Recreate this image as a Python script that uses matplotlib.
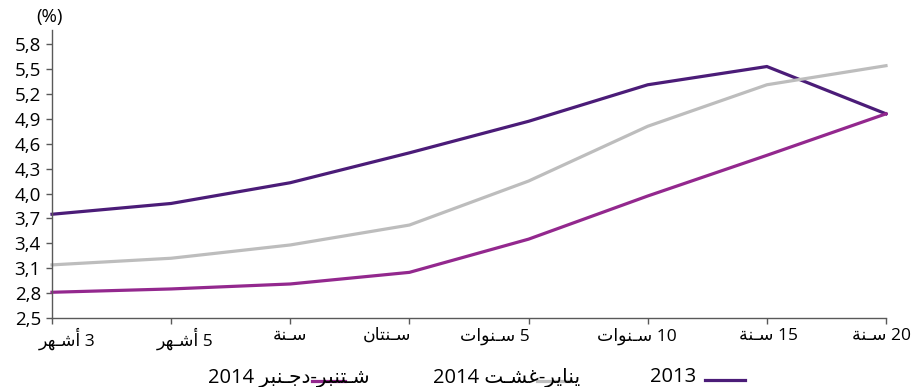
import matplotlib
matplotlib.use("Agg")
import matplotlib.pyplot as plt
from matplotlib.lines import Line2D
import matplotlib.transforms as mtransforms

plt.rcParams['font.family'] = ['Open Sans', 'DejaVu Sans']

# --- data -------------------------------------------------------------
maturities = ["3 أشـهر", "5 أشـهر", "سـنة", "سـنتان", "5 سـنوات",
              "10 سـنوات", "15 سـنة", "20 سـنة"]
series_names = ["2013", "يناير-غشـت 2014", "شـتنبر-دجـنبر 2014"]
rates_2013 = [3.75, 3.88, 4.13, 4.49, 4.87, 5.31, 5.53, 4.96]
rates_jan_aug_2014 = [3.14, 3.22, 3.38, 3.62, 4.15, 4.81, 5.31, 5.54]
rates_sep_dec_2014 = [2.81, 2.85, 2.91, 3.05, 3.45, 3.97, 4.46, 4.96]
y_ticks = [2.5, 2.8, 3.1, 3.4, 3.7, 4.0, 4.3, 4.6, 4.9, 5.2, 5.5, 5.8]

colors = ["#4b1c78", "#bdbdbd", "#93288e"]

# --- minimal Arabic shaping (presentation forms + visual order) -------
FORMS = {  # isolated, final, initial, medial
    'ا': ('\uFE8D', '\uFE8E', None, None),
    'أ': ('\uFE83', '\uFE84', None, None),
    'ب': ('\uFE8F', '\uFE90', '\uFE91', '\uFE92'),
    'ة': ('\uFE93', '\uFE94', None, None),
    'ت': ('\uFE95', '\uFE96', '\uFE97', '\uFE98'),
    'ج': ('\uFE9D', '\uFE9E', '\uFE9F', '\uFEA0'),
    'د': ('\uFEA9', '\uFEAA', None, None),
    'ر': ('\uFEAD', '\uFEAE', None, None),
    'س': ('\uFEB1', '\uFEB2', '\uFEB3', '\uFEB4'),
    'ش': ('\uFEB5', '\uFEB6', '\uFEB7', '\uFEB8'),
    'غ': ('\uFECD', '\uFECE', '\uFECF', '\uFED0'),
    'ن': ('\uFEE5', '\uFEE6', '\uFEE7', '\uFEE8'),
    'ه': ('\uFEE9', '\uFEEA', '\uFEEB', '\uFEEC'),
    'و': ('\uFEED', '\uFEEE', None, None),
    'ي': ('\uFEF1', '\uFEF2', '\uFEF3', '\uFEF4'),
    'ـ': ('\u0640', '\u0640', '\u0640', '\u0640'),
}


def is_ar(c):
    return c in FORMS


def dual(c):
    return c in FORMS and FORMS[c][2] is not None


def shape_word(w):
    out = []
    for i, c in enumerate(w):
        prev_join = i > 0 and dual(w[i - 1])
        next_join = dual(c) and i + 1 < len(w) and is_ar(w[i + 1])
        iso, fin, ini, med = FORMS[c]
        if prev_join and next_join:
            out.append(med)
        elif prev_join:
            out.append(fin)
        elif next_join:
            out.append(ini)
        else:
            out.append(iso)
    return ''.join(out)


def rtl(text):
    runs = []
    cur, kind = '', None
    for c in text:
        k = 'a' if is_ar(c) else ('d' if c.isdigit() else 'n')
        if k == kind and k != 'n':
            cur += c
        else:
            if cur:
                runs.append((kind, cur))
            cur, kind = c, k
    if cur:
        runs.append((kind, cur))
    vis = []
    for k, r in reversed(runs):
        vis.append(shape_word(r)[::-1] if k == 'a' else r)
    return ''.join(vis)


# --- figure -----------------------------------------------------------
fig = plt.figure(figsize=(9.21, 3.87), dpi=100)
ax = fig.add_axes([52 / 921, 1 - 318 / 387, (886 - 52) / 921, (318 - 30) / 387])

x = list(range(len(maturities)))
for vals, col in zip([rates_2013, rates_jan_aug_2014, rates_sep_dec_2014], colors):
    ax.plot(x, vals, color=col, lw=2.3, solid_joinstyle='miter', clip_on=False)

ax.set_xlim(0, len(maturities) - 1)
ax.set_ylim(2.5, 5.97)
ax.set_yticks(y_ticks)
ax.set_yticklabels([f"{v:.1f}".replace('.', ',') for v in y_ticks], fontsize=13.5)
ax.set_xticks(x)
ax.set_xticklabels([rtl(m) for m in maturities], fontsize=12.5)

for side in ['top', 'right']:
    ax.spines[side].set_visible(False)
for side in ['left', 'bottom']:
    ax.spines[side].set_color('#595959')
    ax.spines[side].set_linewidth(1.0)
ax.tick_params(axis='both', length=4, width=1.0, color='#595959', labelcolor='black')
ax.tick_params(axis='y', pad=4)
ax.tick_params(axis='x', pad=3)

# label shifts (points) for the category labels
shifts = [11, 10, 0, -16, -24, -8, 1, -3]
for lab, dx in zip(ax.get_xticklabels(), shifts):
    lab.set_transform(lab.get_transform() +
                      mtransforms.ScaledTranslation(dx / 72, 0, fig.dpi_scale_trans))

fig.text(36 / 921, 1 - 17 / 387, "(%)", fontsize=13.5, va='center', ha='left')

# legend
ly = 1 - 377 / 387
fig.text(696 / 921, ly, series_names[0], fontsize=14.5, ha='right', va='center')
fig.add_artist(Line2D([705 / 921, 745 / 921], [1 - 380 / 387] * 2,
                      color=colors[0], lw=2.3, transform=fig.transFigure))
fig.text(580 / 921, ly, rtl(series_names[1]), fontsize=14.5, ha='right', va='center')
fig.add_artist(Line2D([537 / 921, 571 / 921], [1 - 381 / 387] * 2,
                      color=colors[1], lw=2.3, transform=fig.transFigure))
fig.text(370 / 921, ly, rtl(series_names[2]), fontsize=14.5, ha='right', va='center')
fig.add_artist(Line2D([312 / 921, 345 / 921], [1 - 381 / 387] * 2,
                      color=colors[2], lw=2.3, transform=fig.transFigure))

fig.savefig("out.png", dpi=100)
